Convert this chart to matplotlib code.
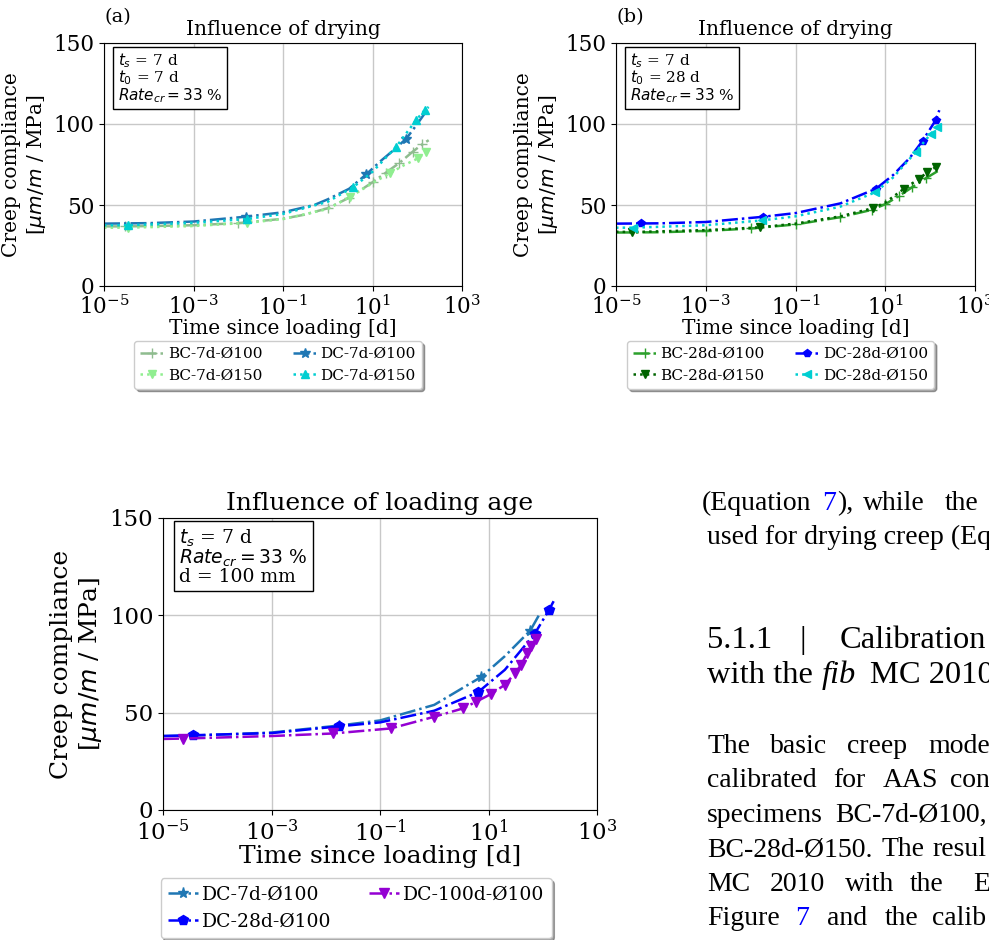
import matplotlib.pyplot as plt
from matplotlib.ticker import NullLocator

plt.rcParams['font.family'] = 'serif'
plt.rcParams['mathtext.fontset'] = 'dejavusans'

# ---- (a) influence of drying, t0 = 7 d ----
t_bc7_100 = [1e-5, 3e-5, 1e-4, 1e-3, 1e-2, 0.1, 0.3, 1, 3, 10, 20, 40, 80, 130, 180]
J_bc7_100 = [36.8, 36.8, 37.0, 37.5, 38.8, 41.5, 44, 48, 54.5, 64, 70, 76, 83, 87.5, 90]
m_bc7_100 = [1, 4, 7, 8, 9, 10, 11, 12, 13]

t_bc7_150 = [1e-5, 3.4e-5, 1e-3, 1.6e-2, 0.1, 1, 3.1, 10, 24, 50, 104, 158, 180]
J_bc7_150 = [36, 36, 37, 39, 41.3, 47.5, 55, 63.5, 69.5, 74.5, 78.8, 82.9, 83.5]
m_bc7_150 = [1, 3, 6, 8, 10, 11]

t_dc7_100 = [1e-5, 1e-4, 1e-3, 1.5e-2, 0.1, 0.5, 1, 3, 7.3, 15, 30, 57, 100, 180]
J_dc7_100 = [38.5, 38.8, 39.8, 42.8, 45.5, 50, 53.5, 60, 69, 77, 84, 91, 100, 110]
m_dc7_100 = [3, 8, 11]

t_dc7_150 = [1e-5, 3.4e-5, 1e-3, 1.6e-2, 0.1, 1, 3.7, 10, 34, 95, 146, 180]
J_dc7_150 = [37.5, 37.5, 39, 41.4, 44.5, 52, 61, 70.5, 86, 102.5, 108.5, 110.5]
m_dc7_150 = [1, 3, 6, 8, 9, 10]

# ---- (b) influence of drying, t0 = 28 d ----
t_bc28_100 = [1e-5, 1e-4, 1e-3, 1e-2, 0.1, 1, 5, 10, 20, 40, 80, 160]
J_bc28_100 = [33, 33.2, 34, 35.5, 38, 42.5, 47, 50.5, 55.5, 61, 66.5, 71.5]
m_bc28_100 = [2, 3, 4, 5, 6, 7, 8, 9, 10]

t_bc28_150 = [1e-5, 2.3e-5, 1e-3, 1.6e-2, 0.1, 1, 5.2, 10, 26, 57, 87, 134, 160]
J_bc28_150 = [33.5, 33.3, 34.5, 36.2, 38.5, 43, 48, 51.5, 60, 66.2, 70.3, 73.4, 75]
m_bc28_150 = [1, 3, 6, 8, 9, 10, 11]

t_dc28_100 = [1e-5, 3.6e-5, 1e-4, 1e-3, 1.86e-2, 0.1, 1, 6.2, 15, 35, 68, 134, 160]
J_dc28_100 = [38.5, 38.6, 38.7, 39.5, 42.7, 45, 51, 60, 68.5, 79, 89.6, 102.5, 108.5]
m_dc28_100 = [1, 4, 7, 10, 11]

t_dc28_150 = [1e-5, 2.35e-5, 1e-3, 1.8e-2, 0.1, 1, 6, 15, 48, 104, 145, 160]
J_dc28_150 = [36, 36, 37.5, 40.5, 43, 49, 57.9, 67, 82.8, 94, 98.3, 99]
m_dc28_150 = [1, 3, 6, 8, 9, 10]

# ---- (c) influence of loading age ----
t_c7 = [1e-5, 3.5e-5, 1e-3, 1.78e-2, 0.1, 1, 7.3, 20, 59, 88]
J_c7 = [38, 38.2, 39.8, 43.4, 46, 54, 68.3, 79, 92.2, 100.8]
m_c7 = [3, 6, 8]

t_c28 = [1e-5, 3.5e-5, 1e-3, 1.78e-2, 0.1, 1, 6.4, 20, 71, 131, 162]
J_c28 = [38, 38.4, 39.5, 43, 45, 51, 60.5, 72, 90.5, 102.9, 107.7]
m_c28 = [1, 3, 6, 8, 9]

t_c100 = [1e-5, 2.3e-5, 1e-3, 1.34e-2, 0.158, 1.0, 3.4, 5.8, 11, 20, 31, 40, 52, 62, 74, 85]
J_c100 = [36.5, 36.7, 38, 39.3, 41.9, 47.9, 52.2, 55.5, 59.5, 64.3, 70.3, 74.6, 80.6, 84, 88, 89.5]
m_c100 = [1, 3, 4, 5, 6, 7, 8, 9, 10, 11, 12, 13, 14]

W, H = 989, 940


def px_axes(l, t, r, b):
    return [l / W, 1 - b / H, (r - l) / W, (b - t) / H]


def style_axes(ax, fs_tick, fs_lab, title):
    ax.set_xscale('log')
    ax.set_xlim(1e-5, 1e3)
    ax.set_ylim(0, 150)
    ax.set_xticks([1e-5, 1e-3, 1e-1, 1e1, 1e3])
    ax.xaxis.set_minor_locator(NullLocator())
    ax.set_yticks([0, 50, 100, 150])
    ax.grid(True, color='#c8c8c8', lw=1.0)
    ax.set_axisbelow(True)
    ax.tick_params(labelsize=fs_tick)
    ax.set_xlabel('Time since loading [d]', fontsize=fs_lab, labelpad=-1)
    ax.set_ylabel('Creep compliance\n[$\\mu m/m$ / MPa]', fontsize=fs_lab)
    ax.set_title(title, fontsize=fs_lab)


def info_box(ax, txt, fs):
    ax.text(0.038, 0.966, txt, transform=ax.transAxes, va='top', ha='left',
            fontsize=fs, linespacing=0.9,
            bbox=dict(boxstyle='square,pad=0.3', fc='white', ec='black', lw=1))


def add_legend(ax, x, y, fs):
    ax.legend(loc='upper center', bbox_to_anchor=(x, y), ncol=2, fontsize=fs,
              shadow=True, borderaxespad=0, handlelength=1.6, handletextpad=0.2,
              columnspacing=2.0)


fig = plt.figure(figsize=(W / 100, H / 100), dpi=100)

# (a)
ax1 = fig.add_axes(px_axes(104, 43, 462, 286))
ax1.plot(t_bc7_100, J_bc7_100, '-.', color='darkseagreen', marker='+', ms=7, lw=1.8,
         markevery=m_bc7_100, label='BC-7d-Ø100')
ax1.plot(t_bc7_150, J_bc7_150, ':', color='lightgreen', marker='v', ms=6, lw=1.8,
         markevery=m_bc7_150, label='BC-7d-Ø150')
ax1.plot(t_dc7_100, J_dc7_100, '-.', color='#1f77b4', marker='*', ms=7, lw=1.8,
         markevery=m_dc7_100, label='DC-7d-Ø100')
ax1.plot(t_dc7_150, J_dc7_150, ':', color='darkturquoise', marker='^', ms=6, lw=1.8,
         markevery=m_dc7_150, label='DC-7d-Ø150')
style_axes(ax1, 15.5, 14.5, 'Influence of drying')
info_box(ax1, '$t_s$ = 7 d\n$t_0$ = 7 d\n$Rate_{cr} = 33$ %', 11)
add_legend(ax1, 0.486, -0.226, 11)

# (b)
ax2 = fig.add_axes(px_axes(616, 43, 975, 286))
ax2.plot(t_bc28_100, J_bc28_100, '-.', color='#2ca02c', marker='+', ms=7, lw=1.8,
         markevery=m_bc28_100, label='BC-28d-Ø100')
ax2.plot(t_bc28_150, J_bc28_150, ':', color='darkgreen', marker='v', ms=6, lw=1.8,
         markevery=m_bc28_150, label='BC-28d-Ø150')
ax2.plot(t_dc28_100, J_dc28_100, '-.', color='blue', marker='p', ms=6, lw=1.8,
         markevery=m_dc28_100, label='DC-28d-Ø100')
ax2.plot(t_dc28_150, J_dc28_150, ':', color='darkturquoise', marker='<', ms=6, lw=1.8,
         markevery=m_dc28_150, label='DC-28d-Ø150')
style_axes(ax2, 15.5, 14.5, 'Influence of drying')
info_box(ax2, '$t_s$ = 7 d\n$t_0$ = 28 d\n$Rate_{cr} = 33$ %', 11)
add_legend(ax2, 0.458, -0.226, 11)

# (c)
ax3 = fig.add_axes(px_axes(163, 518, 597, 810))
ax3.plot(t_c7, J_c7, '-.', color='#1f77b4', marker='*', ms=8, lw=1.8,
         markevery=m_c7, label='DC-7d-Ø100')
ax3.plot(t_c28, J_c28, '-.', color='blue', marker='p', ms=7, lw=1.8,
         markevery=m_c28, label='DC-28d-Ø100')
ax3.plot(t_c100, J_c100, '-.', color='darkviolet', marker='v', ms=7, lw=1.8,
         markevery=m_c100, label='DC-100d-Ø100')
style_axes(ax3, 16.5, 18, 'Influence of loading age')
info_box(ax3, '$t_s$ = 7 d\n$Rate_{cr} = 33$ %\nd = 100 mm', 13.5)
add_legend(ax3, 0.445, -0.233, 13.5)

fig.text(105 / W, 1 - 22 / H, '(a)', fontsize=14, va='baseline')
fig.text(617 / W, 1 - 22 / H, '(b)', fontsize=14, va='baseline')

# ---- surrounding page text ----
body = 'Liberation Serif'


def put(words, y, size=20):
    for w, x, col, sty in words:
        fig.text(x / W, 1 - y / H, w, fontsize=size, family=body, color=col,
                 style=sty, va='baseline', ha='left')


k, b, n, i = 'black', 'blue', 'normal', 'italic'
put([('(Equation', 702, k, n), ('7', 822, b, n), ('),', 837, k, n),
     ('while', 863, k, n), ('the', 945, k, n)], 510)
put([('used for drying creep (Eq', 707, k, n)], 544)
put([('5.1.1', 707, k, n), ('|', 800, k, n), ('Calibration', 840, k, n)], 648, 23.4)
put([('with the', 707, k, n), ('fib', 822, k, i), ('MC 2010', 870, k, n)], 683, 23.4)
rows = [
    [('The', 707), ('basic', 770), ('creep', 847), ('mode', 928)],
    [('calibrated', 707), ('for', 833), ('AAS', 883), ('con', 950)],
    [('specimens', 707), ('BC-7d-Ø100,', 835)],
    [('BC-28d-Ø150.', 707), ('The', 882), ('resul', 932)],
    [('MC', 707), ('2010', 770), ('with', 845), ('the', 910), ('E', 973)],
    [('Figure', 707), ('7', 795), ('and', 827), ('the', 885), ('calib', 932)],
]
for r, row in enumerate(rows):
    words = [(w, x, b if (r == 5 and w == '7') else k, n) for w, x in row]
    put(words, 753 + 34.4 * r)

fig.savefig('out.png', dpi=100)
